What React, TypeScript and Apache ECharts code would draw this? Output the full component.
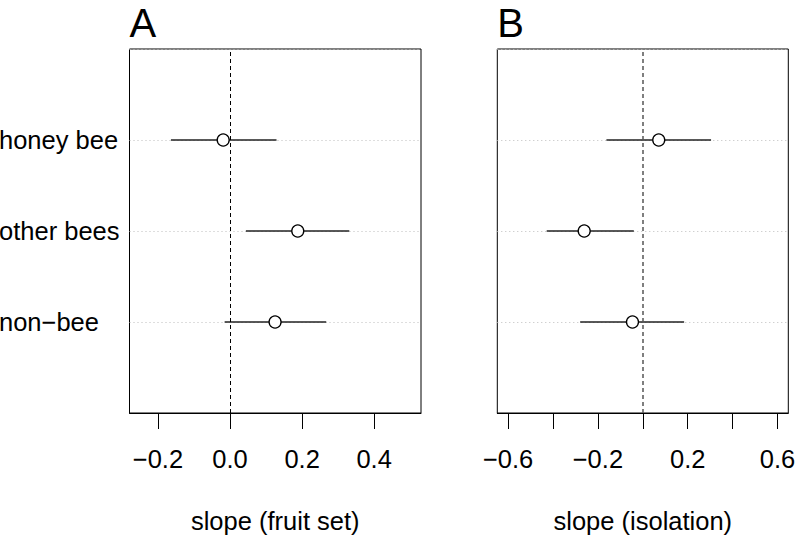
import React, { useEffect, useRef } from "react";
import * as echarts from "echarts";

const categories = ["honey bee", "other bees", "non\u2212bee"];
const fruitEst = [-0.019, 0.188, 0.125];
const fruitLow = [-0.164, 0.044, -0.015];
const fruitHigh = [0.129, 0.331, 0.267];
const isoEst = [0.071, -0.261, -0.046];
const isoLow = [-0.162, -0.428, -0.279];
const isoHigh = [0.304, -0.04, 0.184];
const fruitTicks = [-0.2, 0, 0.2, 0.4];
const isoTicks = [-0.6, -0.4, -0.2, 0, 0.2, 0.4, 0.6];
const isoTickLabels = [-0.6, -0.2, 0.2, 0.6];
const panelTitles = ["A", "B"];
const axisTitles = ["slope (fruit set)", "slope (isolation)"];

const FONT = "'Liberation Sans', Arial, Helvetica, sans-serif";
const FS = 25.5;

const fmt = (v: number) => {
  const s = Math.abs(v).toFixed(1);
  return v < -1e-9 ? "\u2212" + s : s;
};

const GRIDS = [
  { left: 129.5, top: 49, width: 291.5, height: 364 },
  { left: 497.3, top: 49, width: 291, height: 364 },
];

function buildRows(low: number[], high: number[], est: number[]) {
  return categories.map((_, i) => [low[i], high[i], est[i], categories.length - i]);
}

const renderItem = (params: any, api: any) => {
  const y = api.value(3);
  const a = api.coord([api.value(0), y]);
  const b = api.coord([api.value(1), y]);
  const c = api.coord([api.value(2), y]);
  return {
    type: "group",
    children: [
      {
        type: "line",
        shape: { x1: a[0], y1: a[1], x2: b[0], y2: b[1] },
        style: { stroke: "#222", lineWidth: 1.3 },
      },
      {
        type: "circle",
        shape: { cx: c[0], cy: c[1], r: 6 },
        style: { fill: "#fff", stroke: "#000", lineWidth: 1.3 },
      },
    ],
  };
};

export default function App() {
  const ref = useRef<HTMLDivElement>(null);
  useEffect(() => {
    if (!ref.current) return;
    const chart = echarts.init(ref.current, undefined, { renderer: "svg" });
    const xAxisCommon = (idx: number, min: number, max: number, ticks: number[], labels: number[]) => ({
      type: "value",
      gridIndex: idx,
      min,
      max,
      name: axisTitles[idx],
      nameLocation: "middle",
      nameGap: 95,
      nameTextStyle: { fontFamily: FONT, fontSize: FS, color: "#000", verticalAlign: "top" },
      axisLine: { show: true, lineStyle: { color: "#000", width: 1 } },
      axisTick: { show: true, length: 16, customValues: ticks, lineStyle: { color: "#000", width: 1 } },
      axisLabel: {
        show: true,
        customValues: labels,
        formatter: (v: number) => fmt(v),
        margin: 33,
        fontFamily: FONT,
        fontSize: FS,
        color: "#000",
      },
      splitLine: { show: false },
    });
    const yAxisCommon = (idx: number, showLabels: boolean) => ({
      type: "value",
      gridIndex: idx,
      min: 0,
      max: 4,
      interval: 1,
      axisLine: { show: false },
      axisTick: { show: false },
      axisLabel: {
        show: showLabels,
        align: "left",
        margin: 130.5,
        fontFamily: FONT,
        fontSize: FS,
        color: "#000",
        formatter: (v: number) => {
          const i = categories.length - v;
          return v >= 1 && v <= categories.length ? categories[i] : "";
        },
      },
      splitLine: { show: true, lineStyle: { color: "#bdbdbd", type: [1, 3], width: 1 } },
    });
    const zeroLine = (color: string, width: number) => ({
      silent: true,
      symbol: ["none", "none"],
      label: { show: false },
      lineStyle: { color, type: [4, 3], width },
      data: [{ xAxis: 0 }],
    });
    chart.setOption({
      animation: false,
      backgroundColor: "#fff",
      grid: GRIDS.map((g) => ({
        ...g,
        containLabel: false,
        outerBoundsMode: "none",
        show: true,
        borderColor: "#000",
        borderWidth: 1,
        backgroundColor: "transparent",
      })),
      xAxis: [
        xAxisCommon(0, -0.279, 0.53, fruitTicks, fruitTicks),
        xAxisCommon(1, -0.648, 0.648, isoTicks, isoTickLabels),
      ],
      yAxis: [yAxisCommon(0, true), yAxisCommon(1, false)],
      graphic: panelTitles.map((t, i) => ({
        type: "text",
        x: GRIDS[i].left,
        y: 22.5,
        style: { text: t, fontFamily: FONT, fontSize: 40, fill: "#000", verticalAlign: "middle", align: "left" },
      })),
      series: [
        {
          type: "custom",
          xAxisIndex: 0,
          yAxisIndex: 0,
          renderItem,
          encode: { x: [0, 1, 2], y: 3 },
          data: buildRows(fruitLow, fruitHigh, fruitEst),
          markLine: zeroLine("#000", 1),
          z: 3,
        },
        {
          type: "custom",
          xAxisIndex: 1,
          yAxisIndex: 1,
          renderItem,
          encode: { x: [0, 1, 2], y: 3 },
          data: buildRows(isoLow, isoHigh, isoEst),
          markLine: zeroLine("#555", 1.5),
          z: 3,
        },
      ],
    });
    return () => chart.dispose();
  }, []);
  return (
    <div
      ref={ref}
      style={{ position: "fixed", left: 0, top: 0, width: 796, height: 536, background: "#fff" }}
    />
  );
}
